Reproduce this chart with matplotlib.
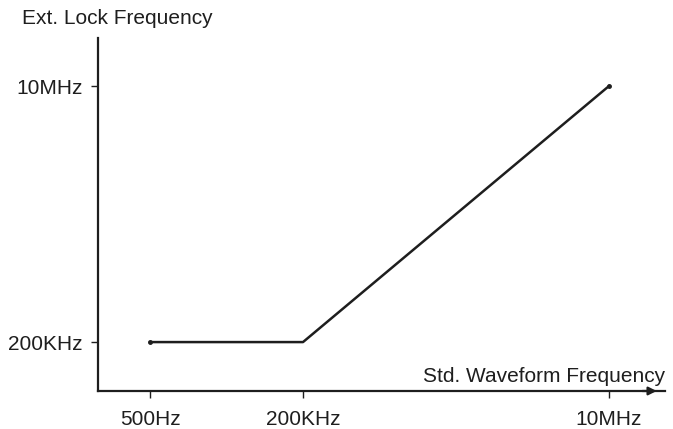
import matplotlib.pyplot as plt

# schematic positions (the chart is not to scale)
x_pos = [1, 2, 4]
x_labels = ["500Hz", "200KHz", "10MHz"]
y_pos = [0, 1]
y_labels = ["200KHz", "10MHz"]

# lock frequency curve
curve_x = [1, 2, 4]
curve_y = [0, 0, 1]

ink = "#1e1e1e"
plt.rcParams['font.family'] = ['Liberation Sans', 'DejaVu Sans']

fig = plt.figure(figsize=(6.73, 4.29), dpi=100)
ax = fig.add_axes([0.1456, 0.0886, 0.8425, 0.8228])

ax.plot(curve_x, curve_y, color=ink, lw=1.8, marker='o', markersize=2.5,
        markevery=[0, 2])

ax.set_xlim(0.66, 4.366)
ax.set_ylim(-0.191, 1.1875)

for s in ['top', 'right']:
    ax.spines[s].set_visible(False)
for s in ['left', 'bottom']:
    ax.spines[s].set_color(ink)
    ax.spines[s].set_linewidth(1.6)

ax.set_xticks(x_pos)
ax.set_xticklabels(x_labels)
ax.set_yticks(y_pos)
ax.set_yticklabels(y_labels)
ax.tick_params(colors=ink, labelsize=15, length=5, width=1)
ax.tick_params(axis='x', pad=9)
ax.tick_params(axis='y', pad=6)

# arrow head on x axis
ax.annotate("", xy=(4.33, -0.191), xytext=(4.2, -0.191),
            xycoords='data', annotation_clip=False,
            arrowprops=dict(arrowstyle='-|>', color=ink, lw=1.6,
                            mutation_scale=12))

fig.text(0.033, 0.958, "Ext. Lock Frequency", fontsize=15, color=ink,
         va='center', ha='left')
ax.text(4.366, -0.135, "Std. Waveform Frequency", fontsize=15, color=ink,
        va='center', ha='right')

fig.savefig("out.png")
